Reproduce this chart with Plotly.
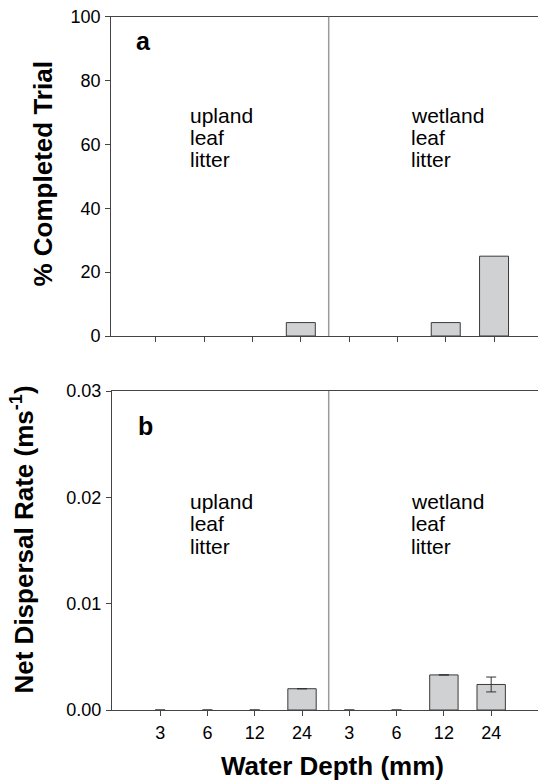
import plotly.graph_objects as go

# ---------------- data ----------------
positions = [0, 1, 2, 3, 4, 5, 6, 7]
depth_labels = ["3", "6", "12", "24", "3", "6", "12", "24"]
pct_completed = [0, 0, 0, 4.2, 0, 0, 4.2, 25]
dispersal_rate = [0, 0, 0, 0.0020, 0, 0, 0.0033, 0.0024]
dispersal_err = [0, 0, 0, 0, 0, 0, 0, 0.0007]
habitat_lines_upland = ["upland", "leaf", "litter"]
habitat_lines_wetland = ["wetland", "leaf", "litter"]
top_yticks = [0, 20, 40, 60, 80, 100]
bot_yticks = [0.0, 0.01, 0.02, 0.03]

# ---------------- layout constants ----------------
W, H = 538, 782
FONT = "Liberation Sans, Arial, sans-serif"
AX = "#444444"
BAR_FILL = "#d0d1d3"
BAR_EDGE = "#3a3a3a"
TICK_SIZE = 18
TITLE_SIZE = 26


def px(x):
    return x / W


def py(y):
    return 1 - y / H


def edge_widths(vals):
    # zero-height bars get no outline so they don't show as stubs on the axis
    return [0 if v == 0 else 1 for v in vals]


fig = go.Figure()

fig.add_trace(go.Bar(
    x=positions, y=pct_completed, width=0.6,
    marker=dict(color=BAR_FILL, line=dict(color=BAR_EDGE, width=edge_widths(pct_completed))),
    xaxis="x", yaxis="y", showlegend=False, hoverinfo="skip",
))
fig.add_trace(go.Bar(
    x=positions, y=dispersal_rate, width=0.6,
    marker=dict(color=BAR_FILL, line=dict(color=BAR_EDGE, width=edge_widths(dispersal_rate))),
    error_y=dict(type="data", array=dispersal_err, visible=True,
                 color="#333333", thickness=1, width=5),
    xaxis="x2", yaxis="y2", showlegend=False, hoverinfo="skip",
))

common_x = dict(
    tickmode="array", tickvals=positions, ticks="outside", ticklen=5,
    tickwidth=1, tickcolor=AX, showline=True, linecolor=AX, linewidth=1,
    mirror=True, showgrid=False, zeroline=False, automargin=False,
)
common_y = dict(
    ticks="outside", ticklen=5, tickwidth=1, tickcolor=AX, showline=True,
    linecolor=AX, linewidth=1, showgrid=False, zeroline=False, automargin=False,
    tickfont=dict(family=FONT, size=TICK_SIZE, color="black"), ticklabelstandoff=1,
)

fig.update_layout(
    width=W, height=H,
    margin=dict(l=0, r=0, t=0, b=0, autoexpand=False),
    paper_bgcolor="white", plot_bgcolor="white",
    font=dict(family=FONT, color="black"),
    bargap=0,
    xaxis=dict(domain=[px(111.2), 1], range=[-0.925, 7.91], anchor="y",
               showticklabels=False, **common_x),
    yaxis=dict(domain=[py(336), py(16.7)], range=[0, 100], anchor="x",
               tickvals=top_yticks, **common_y),
    xaxis2=dict(domain=[px(111.9), 1], range=[-1.02, 7.99], anchor="y2",
                ticktext=depth_labels, ticklabelstandoff=1,
                tickfont=dict(family=FONT, size=TICK_SIZE, color="black"), **common_x),
    yaxis2=dict(domain=[py(710), py(391)], range=[0, 0.03], anchor="x2",
                tickvals=bot_yticks, tickformat=".2f", **common_y),
)

# separator lines between upland and wetland groups
for y0, y1 in [(336, 16.7), (710, 391)]:
    fig.add_shape(type="line", xref="paper", yref="paper",
                  x0=px(328.7), x1=px(328.7), y0=py(y0), y1=py(y1),
                  line=dict(color="#9a9a9a", width=1.5))

ann = []
# habitat labels
for lines, xl in [(habitat_lines_upland, 188.0), (habitat_lines_wetland, 409.3)]:
    for baselines in [(122.7, 144.5, 166.5), (508.3, 531.0, 554.0)]:
        for txt, b in zip(lines, baselines):
            ann.append(dict(text=txt, x=px(xl), y=py(b - 7.3), xref="paper",
                            yref="paper", xanchor="left", yanchor="middle",
                            showarrow=False,
                            font=dict(family=FONT, size=21, color="black")))
# panel letters
for txt, xl, b in [("a", 133.5, 50), ("b", 136.0, 435)]:
    ann.append(dict(text=f"<b>{txt}</b>", x=px(xl), y=py(b - 8.7), xref="paper",
                    yref="paper", xanchor="left", yanchor="middle",
                    showarrow=False, font=dict(family=FONT, size=25, color="black")))
# axis titles
ann.append(dict(text="<b>% Completed Trial</b>", x=px(43.3), y=py(174.2),
                xref="paper", yref="paper", textangle=-90, showarrow=False,
                xanchor="center", yanchor="middle",
                font=dict(family=FONT, size=TITLE_SIZE, color="black")))
ann.append(dict(text="<b>Net Dispersal Rate (ms<sup>-1</sup>)</b>", x=px(22.5),
                y=py(540), xref="paper", yref="paper", textangle=-90,
                showarrow=False, xanchor="center", yanchor="middle",
                font=dict(family=FONT, size=TITLE_SIZE, color="black")))
ann.append(dict(text="<b>Water Depth (mm)</b>", x=px(332.5), y=py(766.0),
                xref="paper", yref="paper", showarrow=False,
                xanchor="center", yanchor="middle",
                font=dict(family=FONT, size=TITLE_SIZE, color="black")))
fig.update_layout(annotations=ann)

fig.write_html(
    "out.html",
    config={"displayModeBar": False, "staticPlot": True},
    post_script="document.body.style.margin='0';document.body.style.overflow='hidden';",
)
